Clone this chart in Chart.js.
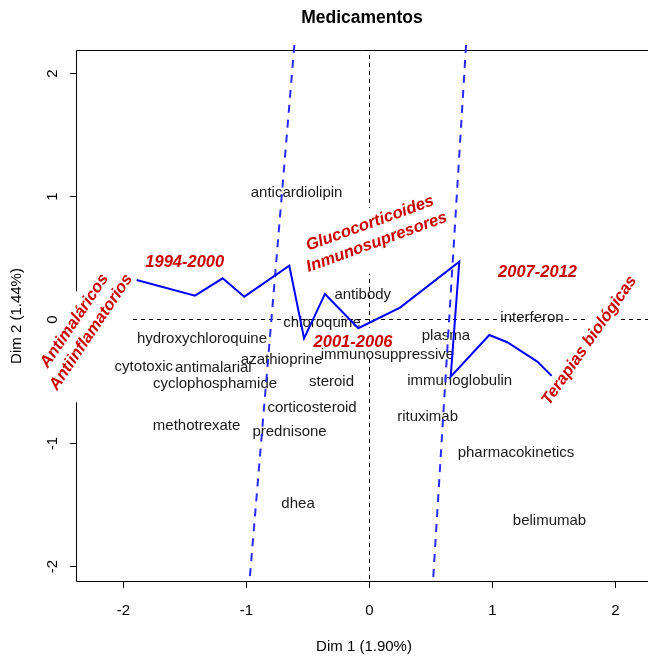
<!DOCTYPE html>
<html>
<head>
<meta charset="utf-8">
<script src="https://cdn.jsdelivr.net/npm/chart.js@4.4.0/dist/chart.umd.min.js"></script>
<style>
  body { margin: 0; background: #fff; }
  #wrap { width: 648px; height: 659px; }
</style>
</head>
<body>
<div id="wrap"><canvas id="ca-plot"></canvas></div>
<script>
// word coordinates on the first two dimensions
const words = ['anticardiolipin', 'antibody', 'chloroquine', 'hydroxychloroquine', 'plasma',
  'interferon', 'azathioprine', 'immunosuppressive', 'cytotoxic', 'antimalarial',
  'cyclophosphamide', 'steroid', 'immunoglobulin', 'corticosteroid', 'rituximab',
  'methotrexate', 'prednisone', 'pharmacokinetics', 'dhea', 'belimumab'];
const wordX = [-0.589, -0.051, -0.382, -1.358, 0.625, 1.325, -0.71, 0.15, -1.831, -1.266,
  -1.252, -0.305, 0.737, -0.463, 0.476, -1.402, -0.646, 1.195, -0.577, 1.467];
const wordY = [1.026, 0.199, -0.026, -0.161, -0.134, 0.01, -0.329, -0.288, -0.383, -0.396,
  -0.523, -0.504, -0.499, -0.718, -0.791, -0.864, -0.913, -1.083, -1.497, -1.635];

// trajectory of the years
const yearX = [-1.889, -1.415, -1.19, -1.014, -0.648, -0.528, -0.358, -0.087, 0.252, 0.734,
  0.664, 0.978, 1.124, 1.368, 1.485];
const yearY = [0.32, 0.193, 0.334, 0.185, 0.436, -0.153, 0.207, -0.071, 0.096, 0.469,
  -0.464, -0.126, -0.185, -0.342, -0.458];

// period separators
const cut1X = [-0.607, -0.972];
const cut1Y = [2.227, -2.13];
const cut2X = [0.789, 0.52];
const cut2Y = [2.227, -2.13];

const periods = ['1994-2000', '2001-2006', '2007-2012'];
const periodX = [-1.498, -0.13, 1.37];
const periodY = [0.467, -0.18, 0.393];

const groups = [['Antimaláricos', 'Antiinflamatorios'], ['Glucocorticoides', 'Inmunosupresores'], ['Terapias biológicas']];
const groupX = [-2.333, 0.033, 1.785];
const groupY = [-0.053, 0.71, -0.166];
const groupAngle = [56, 20, 55];

const xTicks = [-2, -1, 0, 1, 2];
const yTicks = [-2, -1, 0, 1, 2];

const FONT = '"Liberation Sans", Arial, sans-serif';
const RED = '#cd0000';

function pts(xs, ys) {
  return xs.map((v, i) => ({ x: v, y: ys[i] }));
}

function boxedText(ctx, lines, px, py, angle, font) {
  ctx.save();
  ctx.font = font;
  const lh = 20;
  const w = Math.max(...lines.map(l => ctx.measureText(l).width));
  const h = lines.length * lh;
  ctx.translate(px, py);
  ctx.rotate(-angle * Math.PI / 180);
  // white box under the label, deeper below for stacked labels
  const top = -h / 2 - 4;
  const bottom = h / 2 + 3 + (lines.length - 1) * 15;
  ctx.fillStyle = '#fff';
  ctx.fillRect(-w / 2 - 3, top, w + 6, bottom - top);
  ctx.fillStyle = RED;
  ctx.textAlign = 'center';
  ctx.textBaseline = 'middle';
  lines.forEach((l, i) => {
    ctx.fillText(l, 0, -h / 2 + lh / 2 + i * lh + 1);
  });
  ctx.restore();
}

const rPlot = {
  id: 'rPlot',
  beforeDatasetsDraw(chart) {
    const { ctx, chartArea: a, scales: { x, y } } = chart;
    ctx.save();
    // frame (left, top, bottom) and tick marks
    ctx.strokeStyle = '#000';
    ctx.lineWidth = 1;
    ctx.beginPath();
    ctx.moveTo(a.left - 0.5, a.top - 0.5);
    ctx.lineTo(a.left - 0.5, a.bottom + 0.5);
    ctx.lineTo(a.right, a.bottom + 0.5);
    ctx.moveTo(a.left - 0.5, a.top - 0.5);
    ctx.lineTo(a.right, a.top - 0.5);
    xTicks.forEach(t => {
      const px = Math.round(x.getPixelForValue(t)) + 0.5;
      ctx.moveTo(px, a.bottom);
      ctx.lineTo(px, a.bottom + 7);
    });
    yTicks.forEach(t => {
      const py = Math.round(y.getPixelForValue(t)) + 0.5;
      ctx.moveTo(a.left, py);
      ctx.lineTo(a.left - 7, py);
    });
    ctx.stroke();

    // reference lines through the origin
    ctx.setLineDash([4, 4]);
    const x0 = Math.round(x.getPixelForValue(0)) + 0.5;
    const y0 = Math.round(y.getPixelForValue(0)) + 0.5;
    ctx.beginPath();
    ctx.moveTo(x0, a.top + 4);
    ctx.lineTo(x0, a.bottom - 2);
    ctx.moveTo(a.left, y0);
    ctx.lineTo(a.right, y0);
    ctx.stroke();
    ctx.setLineDash([]);
    ctx.restore();

    const redFont = 'italic bold 16.5px ' + FONT;
    periods.forEach((p, i) => {
      boxedText(ctx, [p], x.getPixelForValue(periodX[i]), y.getPixelForValue(periodY[i]), 0, redFont);
    });
    groups.forEach((g, i) => {
      boxedText(ctx, g, x.getPixelForValue(groupX[i]), y.getPixelForValue(groupY[i]), groupAngle[i], redFont);
    });

    ctx.save();
    ctx.fillStyle = '#1a1a1a';
    ctx.font = '15px ' + FONT;
    ctx.textAlign = 'center';
    ctx.textBaseline = 'middle';
    words.forEach((w, i) => {
      ctx.fillText(w, x.getPixelForValue(wordX[i]), y.getPixelForValue(wordY[i]));
    });

    // tick labels
    ctx.fillStyle = '#000';
    xTicks.forEach(t => {
      ctx.fillText(String(t), Math.round(x.getPixelForValue(t)) + 0.5, a.bottom + 30);
    });
    yTicks.forEach(t => {
      ctx.save();
      ctx.translate(a.left - 24, Math.round(y.getPixelForValue(t)) + 0.5);
      ctx.rotate(-Math.PI / 2);
      ctx.fillText(String(t), 0, 0);
      ctx.restore();
    });

    // axis titles and main title
    ctx.fillText('Dim 1 (1.90%)', 364, 647);
    ctx.save();
    ctx.translate(17, 316);
    ctx.rotate(-Math.PI / 2);
    ctx.fillText('Dim 2 (1.44%)', 0, 0);
    ctx.restore();
    ctx.font = 'bold 17.5px ' + FONT;
    ctx.fillText('Medicamentos', 362, 18);
    ctx.restore();
  }
};

new Chart(document.getElementById('ca-plot'), {
  type: 'scatter',
  data: {
    datasets: [
      {
        label: 'years',
        data: pts(yearX, yearY),
        showLine: true,
        borderColor: '#0000ff',
        borderWidth: 2,
        pointRadius: 0,
        tension: 0,
      },
      {
        label: 'cut 1',
        data: pts(cut1X, cut1Y),
        showLine: true,
        borderColor: '#2a2aff',
        borderWidth: 2,
        borderDash: [8, 7],
        pointRadius: 0,
        clip: false,
      },
      {
        label: 'cut 2',
        data: pts(cut2X, cut2Y),
        showLine: true,
        borderColor: '#2a2aff',
        borderWidth: 2,
        borderDash: [8, 7],
        pointRadius: 0,
        clip: false,
      },
    ],
  },
  options: {
    responsive: true,
    maintainAspectRatio: false,
    animation: false,
    layout: { padding: { left: 77, right: 0, top: 51, bottom: 78 } },
    scales: {
      x: { type: 'linear', min: -2.374, max: 2.268, display: false },
      y: { type: 'linear', min: -2.122, max: 2.178, display: false },
    },
    plugins: {
      legend: { display: false },
      tooltip: { enabled: false },
    },
  },
  plugins: [rPlot],
});
</script>
</body>
</html>
